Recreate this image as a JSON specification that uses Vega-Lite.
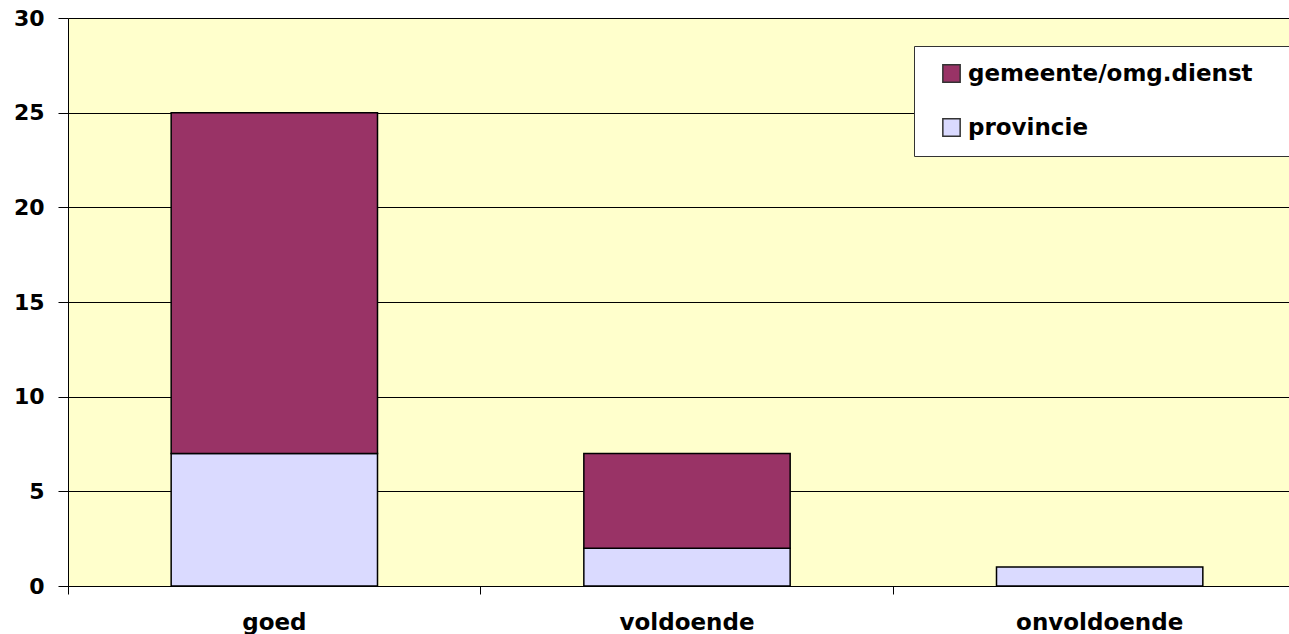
{
  "$schema": "https://vega.github.io/schema/vega-lite/v6.json",
  "width": 1221,
  "height": 568,
  "autosize": {"type": "none"},
  "padding": {"left": 68, "top": 18, "right": 0, "bottom": 48},
  "background": "white",
  "config": {
    "view": {"fill": "#FFFFCC", "stroke": null},
    "font": "DejaVu Sans"
  },
  "data": {
    "values": [
      {"beoordeling": "goed", "instantie": "provincie", "ord": 1, "aantal": 7},
      {"beoordeling": "goed", "instantie": "gemeente/omg.dienst", "ord": 2, "aantal": 18},
      {"beoordeling": "voldoende", "instantie": "provincie", "ord": 1, "aantal": 2},
      {"beoordeling": "voldoende", "instantie": "gemeente/omg.dienst", "ord": 2, "aantal": 5},
      {"beoordeling": "onvoldoende", "instantie": "provincie", "ord": 1, "aantal": 1}
    ]
  },
  "mark": {"type": "bar", "stroke": "black", "strokeWidth": 1.5, "width": {"band": 0.5}},
  "encoding": {
    "x": {
      "field": "beoordeling",
      "type": "nominal",
      "sort": ["goed", "voldoende", "onvoldoende"],
      "scale": {"range": [0, 1238], "paddingInner": 0, "paddingOuter": 0},
      "axis": {
        "title": null,
        "labelAngle": 0,
        "labelFont": "DejaVu Sans",
        "labelFontSize": 23,
        "labelFontWeight": "bold",
        "labelColor": "black",
        "labelPadding": 17,
        "domainColor": "black",
        "domainWidth": 1,
        "tickColor": "black",
        "tickSize": 8,
        "bandPosition": 0
      }
    },
    "y": {
      "field": "aantal",
      "type": "quantitative",
      "stack": "zero",
      "scale": {"domain": [0, 30], "nice": false},
      "axis": {
        "title": null,
        "values": [0, 5, 10, 15, 20, 25, 30],
        "labelFont": "DejaVu Sans",
        "labelFontSize": 22,
        "labelFontWeight": "bold",
        "labelColor": "black",
        "labelPadding": 14,
        "tickColor": "black",
        "tickSize": 10,
        "domainColor": "black",
        "grid": true,
        "gridColor": "black",
        "gridWidth": 1,
        "gridOpacity": 1
      }
    },
    "color": {
      "field": "instantie",
      "type": "nominal",
      "scale": {
        "domain": ["gemeente/omg.dienst", "provincie"],
        "range": ["#993366", "#DADAFF"]
      },
      "legend": {
        "title": null,
        "orient": "none",
        "legendX": 846,
        "legendY": 28,
        "direction": "vertical",
        "fillColor": "white",
        "strokeColor": "#333333",
        "padding": 16,
        "rowPadding": 29,
        "symbolType": "square",
        "symbolSize": 300,
        "symbolStrokeColor": "#333333",
        "symbolStrokeWidth": 1.5,
        "symbolOffset": 10,
        "labelFont": "DejaVu Sans",
        "labelFontSize": 23,
        "labelFontWeight": "bold",
        "labelColor": "black",
        "labelOffset": 5,
        "labelLimit": 500,
        "labelExpr": "datum.label + '\u2800\u2800'"
      }
    },
    "order": {"field": "ord", "type": "quantitative"}
  }
}
